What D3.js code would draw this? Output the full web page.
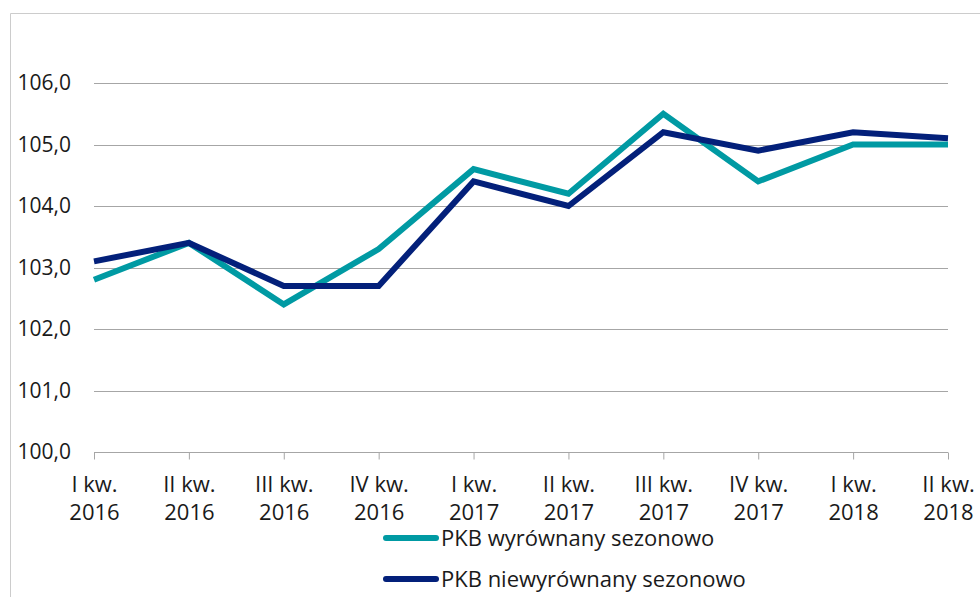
<!DOCTYPE html>
<html>
<head>
<meta charset="utf-8">
<script src="https://cdn.jsdelivr.net/npm/d3@7"></script>
<style>
  body { margin: 0; background: #fff; }
  svg { display: block; }
</style>
</head>
<body>
<div id="chartContainer"></div>
<script>
// quarters on the x axis (two-line labels)
var quarters = ["I kw.|2016", "II kw.|2016", "III kw.|2016", "IV kw.|2016",
                "I kw.|2017", "II kw.|2017", "III kw.|2017", "IV kw.|2017",
                "I kw.|2018", "II kw.|2018"];
// PKB, analogiczny okres poprzedniego roku = 100
var pkbWyrownany   = [102.8, 103.4, 102.4, 103.3, 104.6, 104.2, 105.5, 104.4, 105.0, 105.0];
var pkbNiewyrownany = [103.1, 103.4, 102.7, 102.7, 104.4, 104.0, 105.2, 104.9, 105.2, 105.1];
var yTicks = [100, 101, 102, 103, 104, 105, 106];
var seriesNames = ["PKB wyrównany sezonowo", "PKB niewyrównany sezonowo"];

var width = 980, height = 597;
var teal = "#009aa3", navy = "#03207a";
var font = "'Open Sans', sans-serif";

var svg = d3.select("#chartContainer").append("svg")
  .attr("width", width).attr("height", height);

// outer frame (only left and top edges are visible)
svg.append("path")
  .attr("d", "M10.5," + height + "V13.5H" + width)
  .attr("fill", "none").attr("stroke", "#cccccc").attr("stroke-width", 1);

var x = d3.scalePoint().domain(quarters).range([94, 948]);
var y = d3.scaleLinear().domain([100, 106]).range([452, 83]);

// gridlines
svg.append("g").selectAll("line")
  .data(yTicks.slice(1))
  .enter().append("line")
    .attr("x1", 94).attr("x2", 948)
    .attr("y1", function (d) { return Math.round(y(d)) + 0.5; })
    .attr("y2", function (d) { return Math.round(y(d)) + 0.5; })
    .attr("stroke", "#a6a6a6").attr("stroke-width", 1);

// y axis labels
var yAxis = svg.append("g")
  .attr("transform", "translate(94,0)")
  .call(d3.axisLeft(y).tickValues(yTicks).tickSize(0).tickPadding(23)
    .tickFormat(function (d) { return d3.format(".1f")(d).replace(".", ","); }));
yAxis.select(".domain").remove();
yAxis.selectAll("text")
  .style("font-family", font).style("font-size", "21px").attr("fill", "#1a1a1a");

// x axis
var xAxis = svg.append("g")
  .attr("transform", "translate(0," + (Math.round(y(100)) + 0.5) + ")")
  .call(d3.axisBottom(x).tickSize(7).tickSizeOuter(0).tickFormat(""));
xAxis.select(".domain").attr("stroke", "#a6a6a6").attr("d", "M94,0H948");
xAxis.selectAll(".tick line").attr("stroke", "#a6a6a6");
xAxis.selectAll(".tick").append("text")
  .attr("fill", "#1a1a1a")
  .attr("text-anchor", "middle")
  .style("font-family", font).style("font-size", "22px")
  .each(function (d) {
    var parts = d.split("|");
    var t = d3.select(this);
    t.append("tspan").attr("x", 0).attr("y", 39).text(parts[0]);
    t.append("tspan").attr("x", 0).attr("y", 67).text(parts[1]);
  });

// lines
var line = d3.line()
  .x(function (d, i) { return x(quarters[i]); })
  .y(function (d) { return y(d); });

svg.append("path").datum(pkbWyrownany)
  .attr("d", line).attr("fill", "none")
  .attr("stroke", teal).attr("stroke-width", 6).attr("stroke-linejoin", "miter");
svg.append("path").datum(pkbNiewyrownany)
  .attr("d", line).attr("fill", "none")
  .attr("stroke", navy).attr("stroke-width", 6).attr("stroke-linejoin", "miter");

// legend
var legend = svg.append("g").selectAll("g")
  .data(seriesNames)
  .enter().append("g")
    .attr("transform", function (d, i) { return "translate(386," + (538 + i * 41) + ")"; });
legend.append("line")
  .attr("x1", 0).attr("x2", 50)
  .attr("stroke", function (d, i) { return i === 0 ? teal : navy; })
  .attr("stroke-width", 6).attr("stroke-linecap", "round");
legend.append("text")
  .attr("x", 55).attr("y", 8)
  .style("font-family", font).style("font-size", "22px").attr("fill", "#1a1a1a")
  .text(function (d) { return d; });
</script>
</body>
</html>
